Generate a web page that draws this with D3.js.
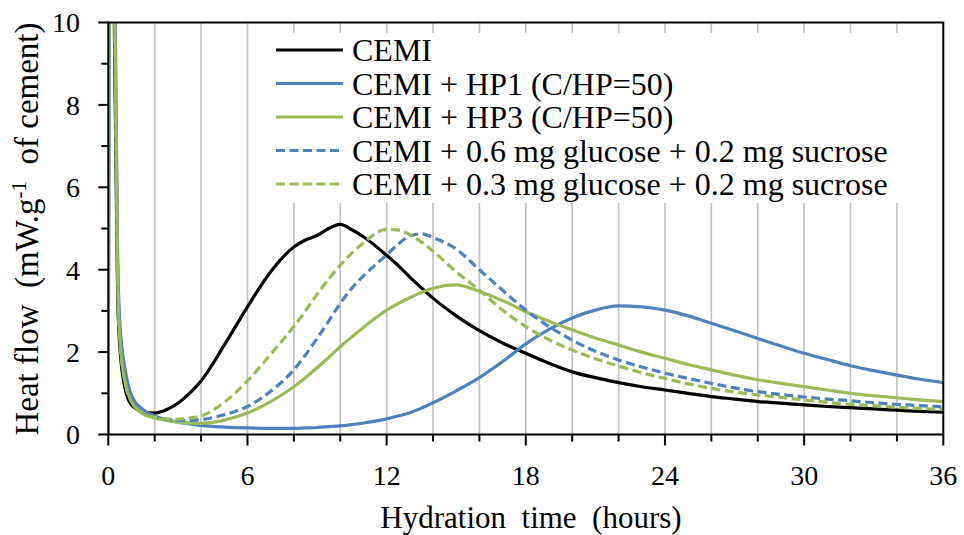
<!DOCTYPE html>
<html>
<head>
<meta charset="utf-8">
<script src="https://cdn.jsdelivr.net/npm/d3@7"></script>
</head>
<body style="margin:0">
<svg id="chart" width="964" height="535" font-family="Liberation Serif"></svg>
<script>
// ---- Data ----
const hours = [0, 0.04, 0.15, 0.3, 0.4, 0.5, 0.75, 1, 1.5, 2, 2.5, 3, 3.5, 4, 5, 6, 7, 8, 8.5, 9, 9.5, 10, 10.5, 11, 12, 12.5, 13, 13.5, 14, 15, 16, 17, 18, 19, 20, 21, 22, 23, 24, 25, 26, 27, 28, 29, 30, 31, 32, 33, 34, 35, 36];

const cemi = [0, 14, 14, 8, 3.5, 2.1, 1.05, 0.72, 0.56, 0.52, 0.6, 0.76, 1.0, 1.3, 2.17, 3.1, 3.95, 4.55, 4.72, 4.83, 5.0, 5.1, 4.97, 4.8, 4.35, 4.1, 3.82, 3.56, 3.31, 2.88, 2.52, 2.22, 1.97, 1.73, 1.52, 1.38, 1.26, 1.16, 1.08, 1.0, 0.92, 0.86, 0.8, 0.76, 0.72, 0.68, 0.65, 0.62, 0.59, 0.56, 0.54];

const cemiHP1 = [0, 14, 14, 10, 4.5, 2.7, 1.5, 0.95, 0.6, 0.45, 0.36, 0.3, 0.26, 0.22, 0.18, 0.16, 0.15, 0.15, 0.16, 0.17, 0.19, 0.21, 0.24, 0.28, 0.38, 0.45, 0.53, 0.64, 0.77, 1.06, 1.38, 1.77, 2.2, 2.55, 2.83, 3.02, 3.12, 3.1, 3.02, 2.88, 2.7, 2.52, 2.33, 2.15, 1.97, 1.82, 1.67, 1.55, 1.44, 1.34, 1.26];

const cemiHP3 = [0, 14, 14, 9, 4, 2.3, 1.2, 0.8, 0.5, 0.4, 0.34, 0.3, 0.28, 0.27, 0.35, 0.52, 0.8, 1.16, 1.38, 1.62, 1.87, 2.13, 2.37, 2.6, 3.02, 3.18, 3.32, 3.45, 3.55, 3.63, 3.47, 3.25, 2.98, 2.75, 2.54, 2.34, 2.17, 2.0, 1.85, 1.7, 1.57, 1.44, 1.33, 1.24, 1.16, 1.08, 1.0, 0.94, 0.89, 0.84, 0.8];

const cemiGlu06 = [0, 14, 14, 9, 4, 2.4, 1.3, 0.85, 0.55, 0.43, 0.37, 0.34, 0.34, 0.36, 0.48, 0.68, 1.05, 1.57, 1.93, 2.33, 2.75, 3.18, 3.55, 3.85, 4.36, 4.62, 4.82, 4.87, 4.78, 4.5, 4.0, 3.5, 3.02, 2.62, 2.29, 2.02, 1.81, 1.64, 1.49, 1.36, 1.24, 1.13, 1.04, 0.97, 0.91, 0.86, 0.82, 0.77, 0.73, 0.7, 0.67];

const cemiGlu03 = [0, 14, 14, 9, 4, 2.3, 1.2, 0.8, 0.52, 0.42, 0.38, 0.37, 0.4, 0.45, 0.78, 1.3, 1.95, 2.62, 3.0, 3.4, 3.77, 4.11, 4.4, 4.65, 4.98, 4.96, 4.85, 4.67, 4.45, 3.95, 3.5, 3.02, 2.62, 2.3, 2.05, 1.84, 1.66, 1.5, 1.36, 1.23, 1.12, 1.03, 0.96, 0.9, 0.84, 0.78, 0.73, 0.7, 0.66, 0.63, 0.61];

const seriesNames = [
  "CEMI",
  "CEMI + HP1 (C/HP=50)",
  "CEMI + HP3 (C/HP=50)",
  "CEMI + 0.6 mg glucose + 0.2 mg sucrose",
  "CEMI + 0.3 mg glucose + 0.2 mg sucrose"
];
const seriesValues = [cemi, cemiHP1, cemiHP3, cemiGlu06, cemiGlu03];
const seriesColors = ["#000000", "#4F81BD", "#9BBB59", "#4F81BD", "#9BBB59"];
const seriesDashed = [false, false, false, true, true];

const xTicks = [0, 6, 12, 18, 24, 30, 36];
const xMinorTicks = d3.range(0, 37, 2);
const yTicks = [0, 2, 4, 6, 8, 10];
const yMinorTicks = d3.range(0, 11, 1);

// ---- Layout ----
const svg = d3.select("#chart");
const L = 108.3, R = 943.3, T = 22.5, B = 434.5;
const x = d3.scaleLinear().domain([0, 36]).range([L, R]);
const y = d3.scaleLinear().domain([0, 10]).range([B, T]);

function serif(sel) {
  return sel.attr("font-family", "Liberation Serif")
            .style("font-family", '"Liberation Serif"', "important");
}

svg.append("defs").append("clipPath").attr("id", "plotClip")
  .append("rect").attr("x", L).attr("y", T).attr("width", R - L).attr("height", B - T);

// gridlines
svg.selectAll("line.grid")
  .data(xMinorTicks.filter(d => d > 0 && d < 36))
  .join("line").attr("class", "grid")
  .attr("x1", d => x(d)).attr("x2", d => x(d))
  .attr("y1", T).attr("y2", B)
  .attr("stroke", "#c0c0c0").attr("stroke-width", 1.6);

// series
const line = d3.line()
  .x((d, i) => x(hours[i]))
  .y(d => y(d))
  .curve(d3.curveMonotoneX);

seriesValues.forEach((vals, k) => {
  svg.append("path")
    .datum(vals)
    .attr("clip-path", "url(#plotClip)")
    .attr("d", line)
    .attr("fill", "none")
    .attr("stroke", seriesColors[k])
    .attr("stroke-width", 3.2)
    .attr("stroke-linejoin", "round")
    .attr("stroke-dasharray", seriesDashed[k] ? "9,4.5" : null);
});

// plot border
svg.append("rect").attr("x", L).attr("y", T).attr("width", R - L).attr("height", B - T)
  .attr("fill", "none").attr("stroke", "#000").attr("stroke-width", 2);

// x axis ticks
svg.selectAll("line.xtick").data(xMinorTicks).join("line").attr("class", "xtick")
  .attr("x1", d => x(d)).attr("x2", d => x(d))
  .attr("y1", B).attr("y2", d => B + (d % 6 === 0 ? 11 : 7))
  .attr("stroke", "#000").attr("stroke-width", 2);
serif(svg.selectAll("text.xlab").data(xTicks).join("text").attr("class", "xlab"))
  .attr("x", d => x(d)).attr("y", 475).attr("dy", "0.35em")
  .attr("text-anchor", "middle")
  .attr("font-size", 28).attr("fill", "#000")
  .text(d => d);

// y axis ticks
svg.selectAll("line.ytick").data(yMinorTicks).join("line").attr("class", "ytick")
  .attr("x1", d => L - (d % 2 === 0 ? 10 : 7)).attr("x2", L)
  .attr("y1", d => y(d)).attr("y2", d => y(d))
  .attr("stroke", "#000").attr("stroke-width", 2);
serif(svg.selectAll("text.ylab").data(yTicks).join("text").attr("class", "ylab"))
  .attr("x", 80).attr("y", d => y(d)).attr("dy", "0.35em")
  .attr("text-anchor", "end")
  .attr("font-size", 28).attr("fill", "#000")
  .text(d => d);

// axis titles
serif(svg.append("text"))
  .attr("x", 531).attr("y", 517).attr("dy", "0.35em")
  .attr("text-anchor", "middle").attr("font-size", 31)
  .attr("xml:space", "preserve")
  .text("Hydration  time  (hours)");

const yt = serif(svg.append("text"))
  .attr("transform", "translate(38,229) rotate(-90)")
  .attr("text-anchor", "middle").attr("font-size", 33)
  .attr("xml:space", "preserve");
yt.append("tspan").text("Heat flow  (mW.g");
yt.append("tspan").attr("font-size", 21).attr("dy", -12).text("-1");
yt.append("tspan").attr("dy", 12).text("  of cement)");

// legend
svg.append("rect").attr("x", 265).attr("y", 33).attr("width", 658).attr("height", 170).attr("fill", "#fff");
const rowY = [50, 83.5, 117, 150.5, 184];
seriesNames.forEach((name, k) => {
  svg.append("line")
    .attr("x1", 276).attr("x2", 343).attr("y1", rowY[k]).attr("y2", rowY[k])
    .attr("stroke", seriesColors[k]).attr("stroke-width", 3.2)
    .attr("stroke-dasharray", seriesDashed[k] ? "9,4.5" : null);
  serif(svg.append("text"))
    .attr("x", 352).attr("y", rowY[k]).attr("dy", "0.35em")
    .attr("font-size", 32).attr("fill", "#000")
    .text(name);
});
</script>
</body>
</html>
